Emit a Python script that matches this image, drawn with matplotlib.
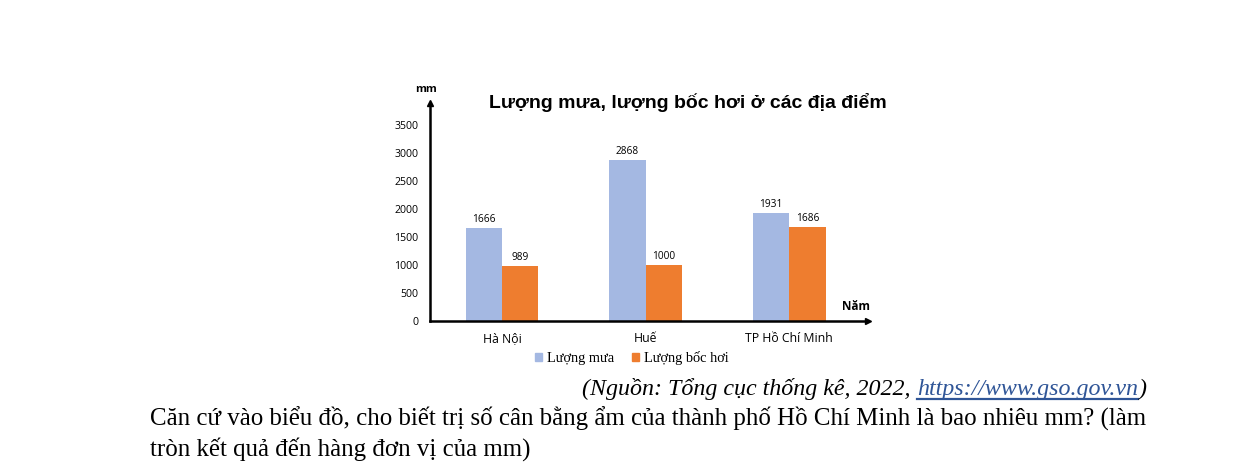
import numpy as np
import matplotlib; matplotlib.use("Agg")
import matplotlib.pyplot as plt
from matplotlib.patches import Patch

W, H = 1242, 466
places = ["Hà Nội", "Huế", "TP Hồ Chí Minh"]
mua = [1666, 2868, 1931]
boc_hoi = [989, 1000, 1686]
yticks = [0, 500, 1000, 1500, 2000, 2500, 3000, 3500]
BLUE, ORANGE = "#a4b8e2", "#ee7d2f"
SANS = ["Open Sans", "DejaVu Sans"]
SERIF = ["Liberation Serif", "DejaVu Serif"]

fig = plt.figure(figsize=(W/100, H/100), dpi=100)
def fx(px): return px / W
def fy(py): return 1 - py / H

# axes in pixel box: x 430..868, y 103..321
ax = fig.add_axes([fx(430), fy(321), fx(868-430), (321-103)/H])
x = np.arange(len(places)); bw = 0.254
ax.bar(x - bw/2, mua, bw, color=BLUE)
ax.bar(x + bw/2, boc_hoi, bw, color=ORANGE)
for xi, v in zip(x - bw/2, mua):
    ax.text(xi, v + 55, str(v), ha="center", va="bottom", fontsize=7.3, family=SANS)
for xi, v in zip(x + bw/2, boc_hoi):
    ax.text(xi, v + 55, str(v), ha="center", va="bottom", fontsize=7.3, family=SANS)
ax.set_xlim(-0.502, 2.55); ax.set_ylim(0, 3893)
ax.set_yticks(yticks); ax.set_yticklabels([str(t) for t in yticks], fontsize=7.6, family=SANS)
ax.set_xticks(x); ax.set_xticklabels(places, fontsize=8.8, family=SANS)
ax.tick_params(length=0)
ax.tick_params(axis="y", pad=8.5)
ax.tick_params(axis="x", pad=8)
for s in ["top", "right"]: ax.spines[s].set_visible(False)
for s in ["left", "bottom"]: ax.spines[s].set_linewidth(1.8)
ax.plot(1, 0, ">k", ms=4.5, transform=ax.transAxes, clip_on=False)
ax.plot(0, 1, "^k", ms=4.5, transform=ax.transAxes, clip_on=False)

fig.text(fx(426), fy(90), "mm", ha="center", va="center", fontsize=8, weight="bold", family=SANS)
fig.text(fx(856), fy(307), "Năm", ha="center", va="center", fontsize=8.5, weight="bold", family=SANS)
fig.text(fx(688), fy(102), "Lượng mưa, lượng bốc hơi ở các địa điểm", ha="center", va="center",
         fontsize=14, weight="bold", family=["Liberation Sans", "DejaVu Sans"])

handles = [Patch(color=BLUE, label="Lượng mưa"), Patch(color=ORANGE, label="Lượng bốc hơi")]
fig.legend(handles=handles, loc="center", bbox_to_anchor=(fx(632), fy(358)), ncol=2, frameon=False,
           prop={"family": SERIF, "size": 10.4}, handlelength=0.5, handleheight=0.5,
           handletextpad=0.35, columnspacing=1.2, borderpad=0)

# text below the chart
r = fig.canvas.get_renderer()
def fit_size(s, width, **kw):
    t = fig.text(0, 0, s, fontsize=14, family=SERIF, **kw)
    w = t.get_window_extent(r).width
    t.remove()
    return 14 * width / w

q1 = "Căn cứ vào biểu đồ, cho biết trị số cân bằng ẩm của thành phố Hồ Chí Minh là bao nhiêu mm? (làm"
fs = fit_size(q1, 996)
fig.text(fx(150), fy(419), q1, va="center", fontsize=fs, family=SERIF)
fig.text(fx(150), fy(449), "tròn kết quả đến hàng đơn vị của mm)", va="center", fontsize=fs, family=SERIF)

# source line, right aligned at x=1146
src = ["(Nguồn: Tổng cục thống kê, 2022, ", "https://www.gso.gov.vn", ")"]
fs2 = fit_size("".join(src), 565, style="italic")
t3 = fig.text(fx(1146), fy(389), src[2], ha="right", va="center", fontsize=fs2, family=SERIF, style="italic")
x3 = t3.get_window_extent(r).x0
t2 = fig.text(x3 / W, fy(389), src[1], ha="right", va="center", fontsize=fs2,
              family=SERIF, style="italic", color="#2f5597")
e2 = t2.get_window_extent(r)
fig.add_artist(plt.Line2D([e2.x0 / W, e2.x1 / W], [(e2.y0 + 1) / H] * 2, color="#2f5597", lw=1.6))
fig.text(e2.x0 / W, fy(389), src[0], ha="right", va="center", fontsize=fs2,
         family=SERIF, style="italic")

fig.savefig("out.png", dpi=100)
